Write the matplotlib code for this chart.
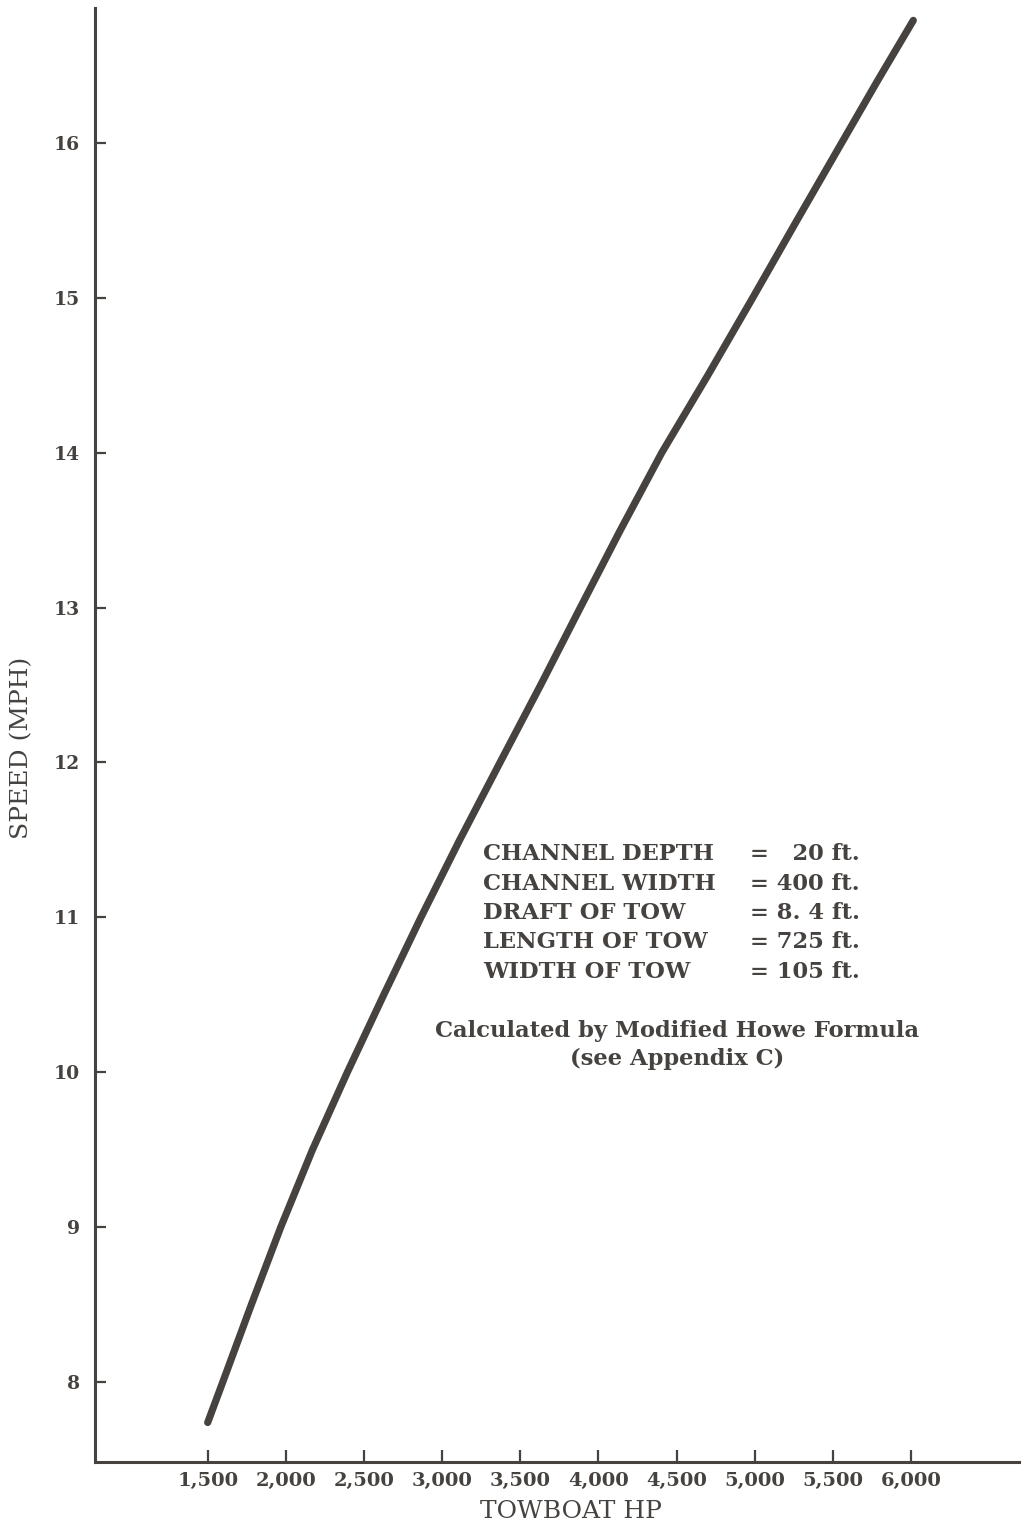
import matplotlib.pyplot as plt

INK = '#46423f'
FONT = 'DejaVu Serif'

# Towboat horsepower vs. speed
towboat_hp = [1500, 1596, 1779, 1967, 2170, 2393, 2626, 2864, 3112, 3370,
              3630, 3884, 4140, 4405, 4700, 4987, 5270, 5556, 5785, 6014]
speed_mph = [7.74, 8.0, 8.5, 9.0, 9.5, 10.0, 10.5, 11.0, 11.5, 12.0,
             12.5, 13.0, 13.5, 14.0, 14.5, 15.0, 15.5, 16.0, 16.4, 16.79]

hp_ticks = [1500, 2000, 2500, 3000, 3500, 4000, 4500, 5000, 5500, 6000]
hp_tick_labels = ['1,500', '2,000', '2,500', '3,000', '3,500', '4,000',
                  '4,500', '5,000', '5,500', '6,000']
speed_ticks = [8, 9, 10, 11, 12, 13, 14, 15, 16]

tow_params = ['CHANNEL DEPTH', 'CHANNEL WIDTH', 'DRAFT OF TOW',
              'LENGTH OF TOW', 'WIDTH OF TOW']
tow_values = ['=   20 ft.', '= 400 ft.', '= 8. 4 ft.', '= 725 ft.', '= 105 ft.']
method_note = 'Calculated by Modified Howe Formula\n(see Appendix C)'

W, H = 1021, 1526


def fx(px):
    return px / W


def fy(py):
    return 1 - py / H


def plot():
    fig = plt.figure(figsize=(W / 100, H / 100), dpi=100)
    ax = fig.add_axes([fx(95), fy(1462), fx(1021) - fx(95), fy(8) - fy(1462)])

    ax.plot(towboat_hp, speed_mph, color=INK, linewidth=5.2,
            solid_capstyle='round', solid_joinstyle='round')

    ax.set_xlim(779, 6703)
    ax.set_ylim(7.485, 16.87)

    for side in ('top', 'right'):
        ax.spines[side].set_visible(False)
    for side in ('left', 'bottom'):
        ax.spines[side].set_color(INK)
        ax.spines[side].set_linewidth(2.2)

    ax.set_xticks(hp_ticks)
    ax.set_xticklabels(hp_tick_labels)
    ax.set_yticks(speed_ticks)
    ax.tick_params(axis='x', direction='in', length=9, width=1.6, color=INK,
                   pad=7, labelsize=14, labelcolor=INK)
    ax.tick_params(axis='y', direction='in', length=8, width=1.6, color=INK,
                   pad=11, labelsize=13.5, labelcolor=INK)
    for lbl in ax.get_xticklabels() + ax.get_yticklabels():
        lbl.set_fontfamily(FONT)
        lbl.set_fontweight('bold')

    label_font = dict(family=FONT, size=18, color=INK)
    fig.text(fx(571), fy(1511), 'TOWBOAT HP', ha='center', va='center', **label_font)
    fig.text(fx(22), fy(748), 'SPEED (MPH)', ha='center', va='center',
             rotation=90, **label_font)

    text_font = dict(family=FONT, size=16.3, weight='bold', color=INK, va='center')
    for i, (name, val) in enumerate(zip(tow_params, tow_values)):
        y = 854 + i * 29.5
        fig.text(fx(483), fy(y), name, ha='left', **text_font)
        fig.text(fx(750), fy(y), val, ha='left', **text_font)

    fig.text(fx(677), fy(1045), method_note, ha='center', multialignment='center',
             linespacing=1.38, **text_font)

    fig.savefig('out.png', dpi=100, facecolor='white')


if __name__ == '__main__':
    plot()
